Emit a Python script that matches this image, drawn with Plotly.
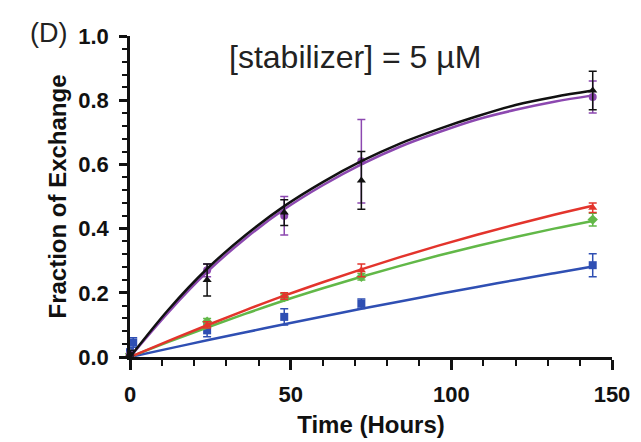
import plotly.graph_objects as go

# ---- data ----
t_pts = [0, 24, 48, 72, 144]
t_blue = [0, 1, 24, 48, 72, 144]

black_v = [0.01, 0.24, 0.45, 0.55, 0.83]
black_e = [0.01, 0.05, 0.04, 0.09, 0.06]
purple_v = [0.01, 0.27, 0.44, 0.61, 0.81]
purple_e = [0.01, 0.02, 0.06, 0.13, 0.05]
red_v = [0.01, 0.10, 0.19, 0.27, 0.465]
red_e = [0.005, 0.01, 0.01, 0.02, 0.015]
green_v = [0.01, 0.11, 0.187, 0.25, 0.428]
green_e = [0.005, 0.01, 0.01, 0.01, 0.02]
blue_v = [0.015, 0.045, 0.083, 0.125, 0.166, 0.286]
blue_e = [0.01, 0.015, 0.02, 0.025, 0.015, 0.036]

# fitted curves
t_fit = [0, 12, 24, 36, 48, 60, 72, 84, 96, 108, 120, 132, 144]
black_fit = [0, 0.148, 0.275, 0.38, 0.47, 0.545, 0.61, 0.665, 0.71, 0.75, 0.785, 0.81, 0.83]
purple_fit = [0, 0.14, 0.265, 0.37, 0.46, 0.535, 0.60, 0.655, 0.70, 0.74, 0.77, 0.795, 0.815]
red_fit = [0, 0.05, 0.099, 0.146, 0.191, 0.233, 0.273, 0.311, 0.347, 0.381, 0.413, 0.443, 0.471]
green_fit = [0, 0.047, 0.092, 0.135, 0.176, 0.214, 0.250, 0.284, 0.316, 0.346, 0.374, 0.400, 0.424]
blue_fit = [0, 0.026, 0.052, 0.077, 0.102, 0.126, 0.150, 0.173, 0.196, 0.218, 0.240, 0.261, 0.282]

x_ticks = [0, 50, 100, 150]
y_ticks = [0.0, 0.2, 0.4, 0.6, 0.8, 1.0]
y_tick_text = ["0.0", "0.2", "0.4", "0.6", "0.8", "1.0"]

series = [
    ("blue", t_blue, blue_v, blue_e, blue_fit, "#2f4fb3", "square"),
    ("green", t_pts, green_v, green_e, green_fit, "#62b848", "diamond"),
    ("red", t_pts, red_v, red_e, red_fit, "#e3342c", "triangle-up"),
    ("purple", t_pts, purple_v, purple_e, purple_fit, "#8c48b0", "circle"),
    ("black", t_pts, black_v, black_e, black_fit, "#111111", "triangle-up"),
]

fig = go.Figure()
for name, tx, vy, ey, fit, col, sym in series:
    fig.add_trace(go.Scatter(x=t_fit, y=fit, mode="lines", line=dict(color=col, width=2.5, shape="spline"),
                             showlegend=False, hoverinfo="skip", cliponaxis=False))
    fig.add_trace(go.Scatter(x=tx, y=vy, mode="markers", marker=dict(color=col, symbol=sym, size=8),
                             error_y=dict(type="data", array=ey, color=col, thickness=1.5, width=4),
                             showlegend=False, name=name, cliponaxis=False))

tick_font = dict(family="Liberation Sans, Arial, sans-serif", size=22, color="#111", weight="bold")

fig.update_layout(
    width=641, height=442,
    margin=dict(l=130, r=29, t=36, b=85),
    paper_bgcolor="white", plot_bgcolor="white",
    xaxis=dict(range=[0, 150], tickvals=x_ticks, ticks="outside", ticklen=10, tickwidth=2.5,
               tickcolor="#111", showline=True, linewidth=2.5, linecolor="#111", showgrid=False,
               zeroline=False, tickfont=tick_font, ticklabelstandoff=6, automargin=False,
               minor=dict(dtick=10, ticks="outside", ticklen=6, tickwidth=2, tickcolor="#111"),
               title=dict(text="Time (Hours)", font=dict(family="Liberation Sans, Arial, sans-serif", size=24,
                                                         color="#111", weight="bold"), standoff=11)),
    yaxis=dict(range=[0, 1.0], tickvals=y_ticks, ticktext=y_tick_text, ticks="outside", ticklen=8,
               tickwidth=2.5, tickcolor="#111", showline=True, linewidth=2.5, linecolor="#111",
               showgrid=False, zeroline=False, tickfont=tick_font, ticklabelstandoff=6, automargin=False,
               minor=dict(dtick=0.04, ticks="outside", ticklen=5, tickwidth=2, tickcolor="#111"),
               title=dict(text="Fraction of Exchange", font=dict(family="Liberation Sans, Arial, sans-serif",
                                                                 size=24, color="#111", weight="bold"),
                          standoff=5)),
    annotations=[
        dict(text="[stabilizer] = 5 µM", xref="paper", yref="paper", x=(355 - 130) / 482, y=1 - (57 - 36) / 321,
             xanchor="center", yanchor="middle", showarrow=False,
             font=dict(family="Liberation Sans, Arial, sans-serif", size=32, color="#222")),
        dict(text="(D)", xref="paper", yref="paper", x=(48 - 130) / 482, y=1 - (33 - 36) / 321,
             xanchor="center", yanchor="middle", showarrow=False,
             font=dict(family="Liberation Sans, Arial, sans-serif", size=27, color="#222")),
    ],
)

fig.write_html("out.html")
